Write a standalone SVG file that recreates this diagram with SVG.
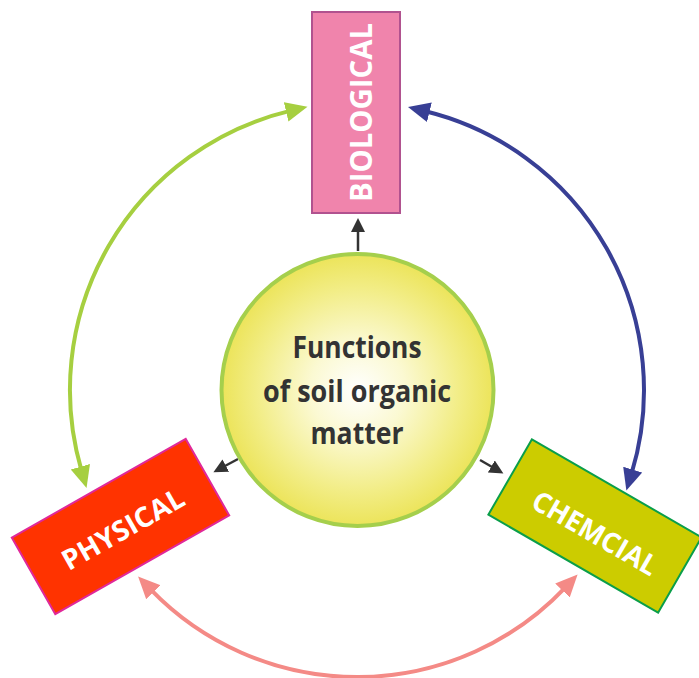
<svg xmlns="http://www.w3.org/2000/svg" width="699" height="678" viewBox="0 0 699 678">
<defs>
<radialGradient id="g" cx="50%" cy="50%" r="50%">
<stop offset="0" stop-color="#ffffff"/>
<stop offset="0.35" stop-color="#fbf9d2"/>
<stop offset="0.75" stop-color="#f2ed86"/>
<stop offset="1" stop-color="#ece45a"/>
</radialGradient>
<marker id="aG" markerUnits="userSpaceOnUse" markerWidth="24" markerHeight="22" viewBox="0 0 24 22" refX="4" refY="10" orient="auto-start-reverse"><path d="M0,0 L22,10 L0,20 z" fill="#a6cf40"/></marker>
<marker id="aB" markerUnits="userSpaceOnUse" markerWidth="24" markerHeight="22" viewBox="0 0 24 22" refX="4" refY="10" orient="auto-start-reverse"><path d="M0,0 L22,10 L0,20 z" fill="#383f95"/></marker>
<marker id="aP" markerUnits="userSpaceOnUse" markerWidth="24" markerHeight="22" viewBox="0 0 24 22" refX="4" refY="10" orient="auto-start-reverse"><path d="M0,0 L22,10 L0,20 z" fill="#f48a86"/></marker>
<marker id="aK" markerUnits="userSpaceOnUse" markerWidth="16" markerHeight="14" viewBox="0 0 16 14" refX="2" refY="7" orient="auto"><path d="M0,0 L14,7 L0,14 z" fill="#333333"/></marker>
</defs>
<style>
.arc{fill:none;stroke-width:4}
.k{fill:none;stroke:#333333;stroke-width:2.5}
.lbl{font-family:"Open Sans","Noto Sans",sans-serif;font-weight:700;fill:#ffffff;text-anchor:middle}
.ctr{font-family:"Open Sans","Noto Sans",sans-serif;font-weight:700;fill:#333333;text-anchor:middle;font-size:31px}
</style>
<g id="connectors">
<path class="arc" stroke="#a6cf40" d="M81.5,470.6 A287,287 0 0 1 290,110.9" marker-start="url(#aG)" marker-end="url(#aG)"/>
<path class="arc" stroke="#383f95" d="M425.5,111.3 A287,287 0 0 1 631.6,473.4" marker-start="url(#aB)" marker-end="url(#aB)"/>
<path class="arc" stroke="#f48a86" d="M565.2,587.6 A287,287 0 0 1 150.6,589.4" marker-start="url(#aP)" marker-end="url(#aP)"/>
<path class="k" d="M358,251 L358,230" marker-end="url(#aK)"/>
<path class="k" d="M238,459 L224,466.5" marker-end="url(#aK)"/>
<path class="k" d="M480,460 L493,467.5" marker-end="url(#aK)"/>
</g>
<g id="biological">
<rect x="312" y="12" width="88" height="201" fill="#f084ac" stroke="#b1528f" stroke-width="2"/>
<text class="lbl" transform="translate(372,112.5) rotate(-90)" font-size="31" textLength="179" lengthAdjust="spacingAndGlyphs">BIOLOGICAL</text>
</g>
<g id="physical">
<rect x="-100" y="-44" width="200" height="88" transform="translate(120.5,526.5) rotate(-29.6)" fill="#ff3300" stroke="#e0289a" stroke-width="2"/>
<text class="lbl" transform="translate(123,529) rotate(-29.6)" y="10" font-size="28" textLength="136" lengthAdjust="spacingAndGlyphs">PHYSICAL</text>
</g>
<g id="chemcial">
<rect x="-98" y="-43.5" width="196" height="87" transform="translate(595,526) rotate(30)" fill="#cccc00" stroke="#0a9e4a" stroke-width="2"/>
<text class="lbl" transform="translate(595,533) rotate(30)" y="10" font-size="28" textLength="140" lengthAdjust="spacingAndGlyphs">CHEMCIAL</text>
</g>
<g id="center">
<circle cx="357.5" cy="390" r="136" fill="url(#g)" stroke="#a5cf4c" stroke-width="4"/>
<text class="ctr" x="357" y="358" textLength="129" lengthAdjust="spacingAndGlyphs">Functions</text>
<text class="ctr" x="357" y="402" textLength="188" lengthAdjust="spacingAndGlyphs">of soil organic</text>
<text class="ctr" x="357" y="444" textLength="93" lengthAdjust="spacingAndGlyphs">matter</text>
</g>
</svg>
